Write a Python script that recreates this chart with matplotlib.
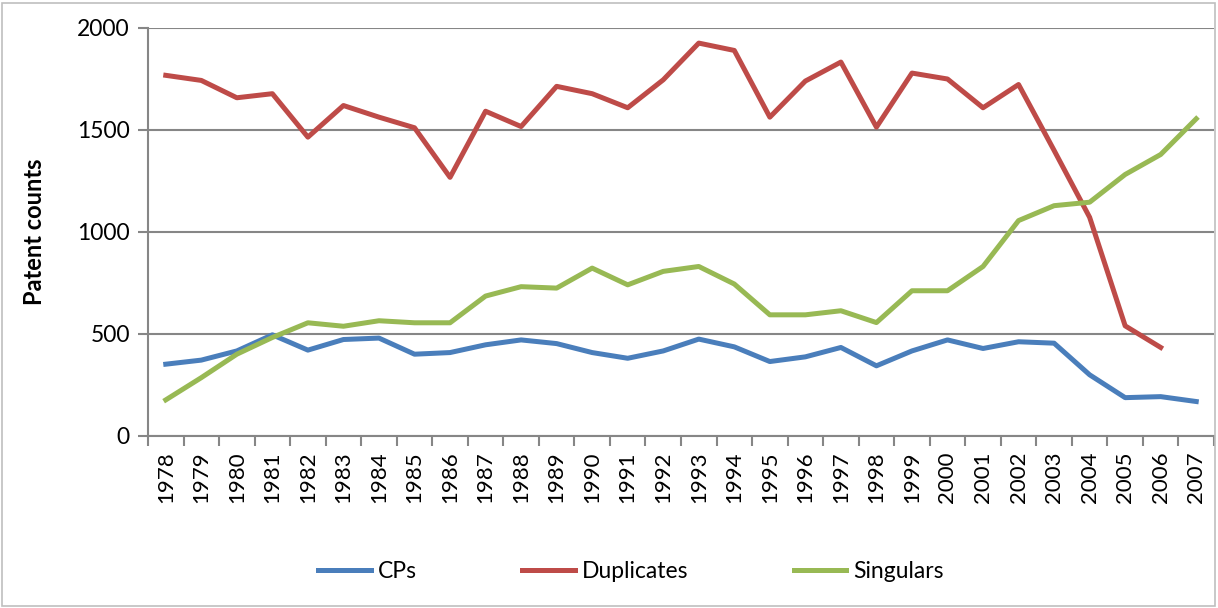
import matplotlib
matplotlib.use("Agg")
import matplotlib.pyplot as plt
from matplotlib.patches import Rectangle
import numpy as np

years = [str(y) for y in range(1978, 2008)]
cps = [352, 372, 417, 496, 421, 473, 480, 401, 409, 447, 471, 453, 409, 381, 417,
       475, 437, 365, 388, 434, 344, 417, 471, 429, 462, 455, 300, 188, 193, 169]
duplicates = [1768, 1743, 1658, 1678, 1465, 1620, 1563, 1511, 1268, 1592, 1517, 1714, 1678, 1609, 1746,
              1926, 1890, 1563, 1740, 1833, 1514, 1779, 1750, 1609, 1723, 1400, 1072, 540, 434, None]
singulars = [177, 286, 401, 483, 555, 538, 565, 555, 555, 686, 732, 725, 823, 741, 807,
             831, 745, 594, 594, 614, 556, 712, 712, 831, 1056, 1129, 1146, 1282, 1380, 1555]
series_names = ["CPs", "Duplicates", "Singulars"]
colors = ["#4A7EBB", "#BE4B48", "#98B954"]

plt.rcParams['font.family'] = ['Lato', 'DejaVu Sans']

W, H = 1218, 608
fig = plt.figure(figsize=(W / 100, H / 100), dpi=100)
ax = fig.add_axes([148 / W, 1 - 436 / H, (1214 - 148) / W, (436 - 28) / H])

x = list(range(len(years)))
dup = np.array([np.nan if v is None else v for v in duplicates], dtype=float)
for vals, name, c in zip([cps, dup, singulars], series_names, colors):
    ax.plot(x, vals, color=c, lw=3.6, label=name, solid_joinstyle='round', zorder=3)

ax.set_xlim(-0.5, len(years) - 0.5)
ax.set_ylim(0, 2000)
ax.set_yticks([0, 500, 1000, 1500, 2000])
ax.set_xticks(x)
ax.set_xticklabels(years, rotation=90, fontsize=16)
ax.tick_params(axis='y', labelsize=16.5, length=7, width=1.5, color="#868686", pad=6)
ax.set_xticks([i - 0.5 for i in range(len(years) + 1)], minor=True)
ax.tick_params(axis='x', which='major', length=0, pad=11)
ax.tick_params(axis='x', which='minor', length=7, width=1.5, color="#868686")
ax.yaxis.grid(True, color="#868686", lw=1.5)
ax.set_axisbelow(True)
for s in ["top", "right"]:
    ax.spines[s].set_visible(False)
for s in ["left", "bottom"]:
    ax.spines[s].set_color("#868686")
    ax.spines[s].set_linewidth(1.5)

ax.set_ylabel("Patent counts", fontsize=17, fontweight='bold')
ax.yaxis.set_label_coords((46 - 148) / (1214 - 148), 0.5)

leg = fig.legend(loc='center', bbox_to_anchor=(0.518, 1 - 572 / H), ncol=3, frameon=False,
                 fontsize=16.5, handlelength=2.3, columnspacing=4.6, handletextpad=0.3)

fig.patches.append(Rectangle((2 / W, 2 / H), (W - 5) / W, (H - 5) / H, transform=fig.transFigure,
                             fill=False, edgecolor="#BFBFBF", lw=1.2))

fig.savefig("out.png", dpi=100)
